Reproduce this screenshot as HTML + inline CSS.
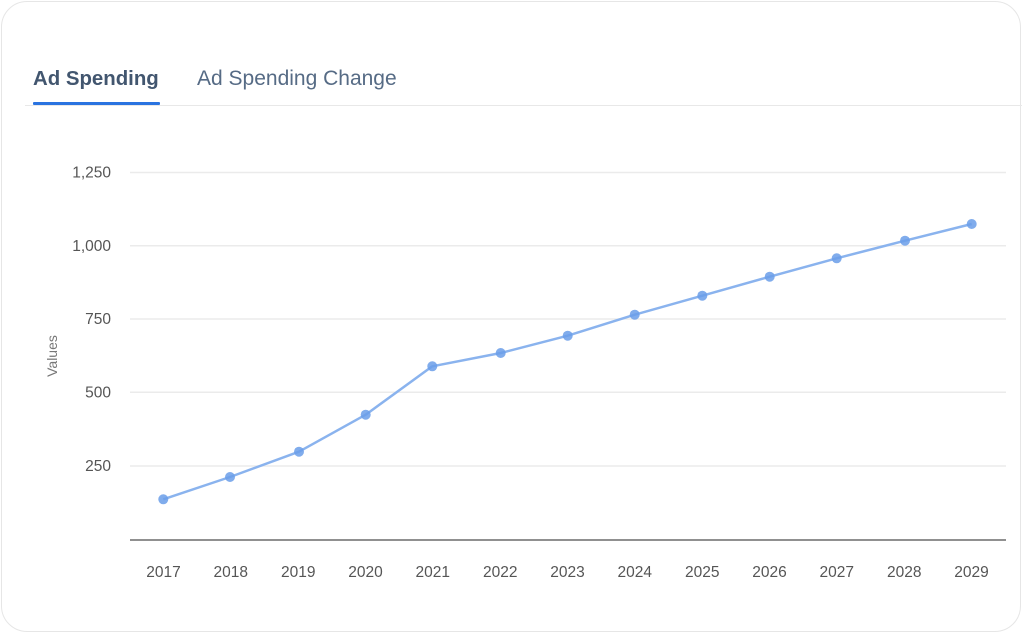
<!DOCTYPE html>
<html><head><meta charset="utf-8"><style>
html,body{margin:0;padding:0;background:#fff;}
body{width:1024px;height:635px;overflow:hidden;position:relative;font-family:"Liberation Sans",sans-serif;}
.card{position:absolute;left:1px;top:1px;width:1020px;height:631px;border:1px solid #e6e6e6;border-radius:26px;box-sizing:border-box;background:#fff;}
.tab{position:absolute;top:66px;font-size:20px;line-height:26px;white-space:nowrap;}
.t1{left:33px;font-weight:bold;color:#42566f;font-size:20.4px;}
.t2{left:197px;color:#566b85;font-size:21px;}
.ul{position:absolute;left:33px;top:102px;width:127px;height:3px;background:#2a73e0;border-radius:1px;}
.sep{position:absolute;left:25px;top:105px;width:997px;height:1px;background:#e8e8e8;}
svg{position:absolute;left:0;top:0;}
</style></head><body>
<div class="card"></div>
<div class="tab t1">Ad Spending</div>
<div class="tab t2">Ad Spending Change</div>
<div class="sep"></div>
<div class="ul"></div>
<svg width="1024" height="635" viewBox="0 0 1024 635">
<g stroke="#ebebeb" stroke-width="1.5">
<line x1="130" y1="172.5" x2="1006" y2="172.5"/>
<line x1="130" y1="245.8" x2="1006" y2="245.8"/>
<line x1="130" y1="319" x2="1006" y2="319"/>
<line x1="130" y1="392.3" x2="1006" y2="392.3"/>
<line x1="130" y1="466" x2="1006" y2="466"/>
</g>
<line x1="130" y1="540" x2="1006" y2="540" stroke="#6b6b6b" stroke-width="1.6"/>
<g font-family="Liberation Sans, sans-serif" font-size="15.5" fill="#555" text-anchor="end">
<text x="111" y="177.5">1,250</text>
<text x="111" y="251">1,000</text>
<text x="111" y="324">750</text>
<text x="111" y="397.5">500</text>
<text x="111" y="471">250</text>
</g>
<text x="0" y="0" font-family="Liberation Sans, sans-serif" font-size="14" fill="#777" text-anchor="middle" transform="translate(57,356) rotate(-90)">Values</text>
<g font-family="Liberation Sans, sans-serif" font-size="15.5" fill="#555" text-anchor="middle">
<text x="163.5" y="577">2017</text>
<text x="230.8" y="577">2018</text>
<text x="298.2" y="577">2019</text>
<text x="365.5" y="577">2020</text>
<text x="432.8" y="577">2021</text>
<text x="500.2" y="577">2022</text>
<text x="567.5" y="577">2023</text>
<text x="634.8" y="577">2024</text>
<text x="702.2" y="577">2025</text>
<text x="769.5" y="577">2026</text>
<text x="836.8" y="577">2027</text>
<text x="904.2" y="577">2028</text>
<text x="971.5" y="577">2029</text>
</g>
<polyline fill="none" stroke="#8ab3ee" stroke-width="2.5" stroke-linejoin="round" points="163.3,499.3 230,477 299,451.7 365.7,414.7 432.3,366.3 500.7,353 567.7,335.7 634.7,314.7 702.3,295.7 769.7,276.7 836.7,258.3 905,240.7 971.7,224"/>
<g fill="#6a9ee9" fill-opacity="0.85">
<circle cx="163.3" cy="499.3" r="5"/>
<circle cx="230" cy="477" r="5"/>
<circle cx="299" cy="451.7" r="5"/>
<circle cx="365.7" cy="414.7" r="5"/>
<circle cx="432.3" cy="366.3" r="5"/>
<circle cx="500.7" cy="353" r="5"/>
<circle cx="567.7" cy="335.7" r="5"/>
<circle cx="634.7" cy="314.7" r="5"/>
<circle cx="702.3" cy="295.7" r="5"/>
<circle cx="769.7" cy="276.7" r="5"/>
<circle cx="836.7" cy="258.3" r="5"/>
<circle cx="905" cy="240.7" r="5"/>
<circle cx="971.7" cy="224" r="5"/>
</g>
</svg>
</body></html>
